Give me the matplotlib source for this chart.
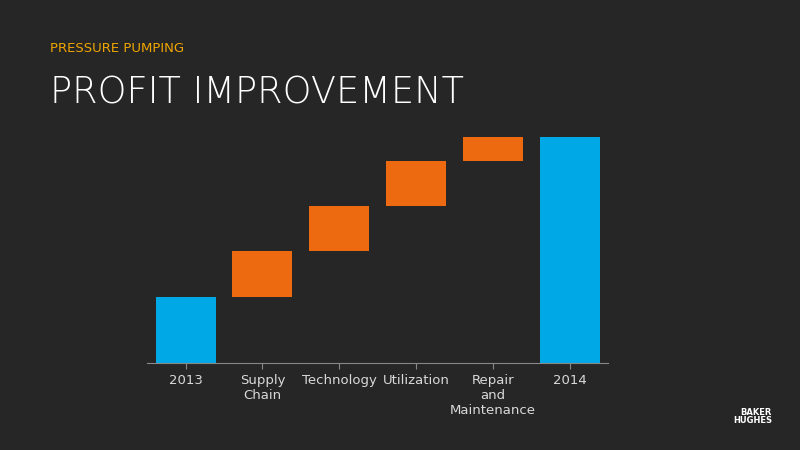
import matplotlib
matplotlib.use("Agg")
import matplotlib.pyplot as plt

categories = ["2013", "Supply\nChain", "Technology", "Utilization", "Repair\nand\nMaintenance", "2014"]
values = [66, 46, 45, 45, 24, 226]
kinds = ["total", "delta", "delta", "delta", "delta", "total"]

fig = plt.figure(figsize=(8, 4.5), dpi=100)
fig.patch.set_facecolor("#262626")
ax = fig.add_axes([0.184, 0.193, 0.576, 0.503])
ax.set_facecolor("none")

bottoms, heights, colors = [], [], []
run = 0
for v, k in zip(values, kinds):
    if k == "total":
        bottoms.append(0); heights.append(v); colors.append("#00a8e6"); run = v
    else:
        bottoms.append(run); heights.append(v); colors.append("#ee6a10"); run += v
x = range(len(categories))
ax.bar(x, heights, bottom=bottoms, color=colors, width=0.78)
ax.set_xlim(-0.5, 5.5)
ax.set_ylim(0, 226)
ax.set_xticks(list(x))
ax.set_xticklabels(categories, color="#d9d9d9", fontsize=9.5, linespacing=1.2)
ax.tick_params(axis="x", length=4, color="#888888")
ax.set_yticks([])
for s in ["top", "right", "left"]:
    ax.spines[s].set_visible(False)
ax.spines["bottom"].set_color("#888888")

fig.text(0.063, 0.885, "PRESSURE PUMPING", color="#f0a500", fontsize=9.5)
fig.text(0.062, 0.77, "PROFIT IMPROVEMENT", color="white", fontsize=26.5, fontweight="light")
fig.text(0.965, 0.06, "BAKER\nHUGHES", color="white", fontsize=6, fontweight="bold", ha="right", linespacing=0.9)
fig.savefig("out.png", dpi=100, facecolor=fig.get_facecolor())
